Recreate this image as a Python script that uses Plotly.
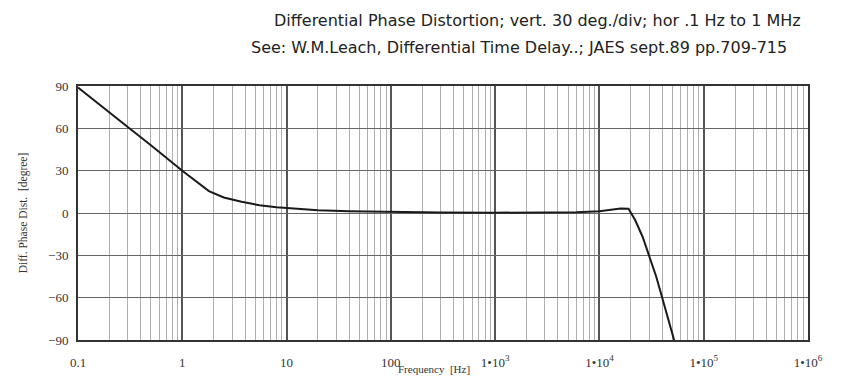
import plotly.graph_objects as go

# Data
freq_hz = [0.1, 0.2, 0.3, 0.5, 1.0, 1.8, 2.5, 3.7, 5.5, 8.0, 12, 20, 40, 100, 300, 1000, 3000, 6000,
           10000, 13000, 16000, 19000, 22000, 26000, 30000, 35000, 40000, 46000, 52000]
phase_deg = [89, 71, 61, 48, 30, 15.5, 11, 8, 5.5, 4, 3, 2, 1.3, 0.7, 0.3, 0.2, 0.3, 0.6,
             1.2, 2.5, 3.2, 3.0, -5, -17, -30, -45, -60, -75, -90]

x_tickvals = [0.1, 1, 10, 100, 1e3, 1e4, 1e5, 1e6]
x_ticktext = ["0.1", "1", "10", "100", "1•10<sup>3</sup>", "1•10<sup>4</sup>",
              "1•10<sup>5</sup>", "1•10<sup>6</sup>"]
y_tickvals = [90, 60, 30, 0, -30, -60, -90]
y_ticktext = ["90", "60", "30", "0", "−30", "−60", "−90"]

minor_vals = [m * 10 ** k for k in range(-1, 6) for m in range(2, 10)]

fig = go.Figure()
fig.add_trace(go.Scatter(x=freq_hz, y=phase_deg, mode="lines",
                         line=dict(color="#1a1a1a", width=2), showlegend=False))

serif = "Liberation Serif, DejaVu Serif, serif"
sans = "DejaVu Sans, Liberation Sans, sans-serif"

fig.update_layout(
    width=851, height=378,
    margin=dict(l=78, r=43, t=86, b=38),
    paper_bgcolor="white", plot_bgcolor="white",
    font=dict(family=serif, size=12, color="#333"),
    annotations=[
        dict(text="Differential Phase Distortion; vert. 30 deg./div; hor .1 Hz to 1 MHz",
             xref="paper", yref="paper", x=0.629, y=1, yshift=66, showarrow=False,
             xanchor="center", yanchor="middle",
             font=dict(family=sans, size=16, color="#222")),
        dict(text="See: W.M.Leach, Differential Time Delay..; JAES sept.89 pp.709-715",
             xref="paper", yref="paper", x=0.604, y=1, yshift=39, showarrow=False,
             xanchor="center", yanchor="middle",
             font=dict(family=sans, size=16, color="#222")),
        dict(text="Frequency  [Hz]",
             xref="paper", yref="paper", x=0.487, y=0, yshift=-29, showarrow=False,
             xanchor="center", yanchor="middle",
             font=dict(family=serif, size=11, color="#333")),
    ],
)

fig.update_xaxes(
    type="log", range=[-1, 6], automargin=False,
    tickvals=x_tickvals, ticktext=x_ticktext,
    showgrid=True, gridcolor="#555", gridwidth=1.5,
    minor=dict(tickvals=minor_vals, showgrid=True, gridcolor="#b0b0b0", gridwidth=1, ticks=""),
    showline=True, linecolor="#333", linewidth=2, mirror=True,
    ticks="", ticklabelstandoff=9,
    tickfont=dict(family=serif, size=13, color="#333"),
    zeroline=False,
)
fig.update_yaxes(
    range=[-90, 90], automargin=False,
    tickvals=y_tickvals, ticktext=y_ticktext,
    showgrid=True, gridcolor="#666", gridwidth=1.2,
    showline=True, linecolor="#333", linewidth=2, mirror=True,
    ticks="", ticklabelstandoff=5,
    tickfont=dict(family=serif, size=13, color="#333"),
    title=dict(text="Diff. Phase Dist.  [degree]", font=dict(family=serif, size=11.5, color="#333"), standoff=18),
    zeroline=False,
)

fig.write_html("out.html")
